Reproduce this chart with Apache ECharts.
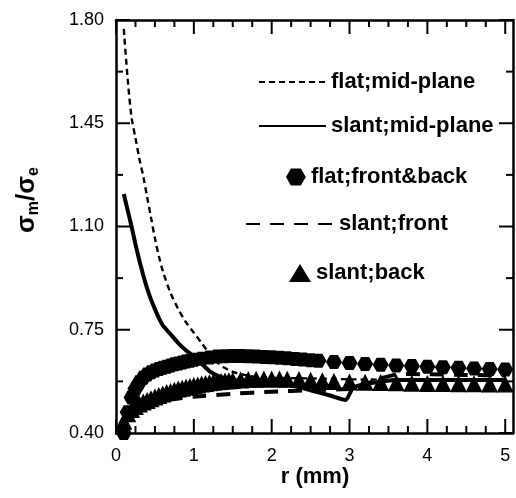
<!DOCTYPE html>
<html><head><meta charset="utf-8">
<script src="https://cdn.jsdelivr.net/npm/echarts@6/dist/echarts.min.js"></script>
<style>html,body{margin:0;padding:0;background:#fff}#c{width:516px;height:498px}</style>
</head><body><div id="c"></div>
<script>
// ---- axis ranges and tick values ----
const X_MIN = 0, X_MAX = 5.1, Y_MIN = 0.4, Y_MAX = 1.8;
const xMajorTicks = [0, 1, 2, 3, 4, 5];
const xMinorTicks = [0.25, 0.5, 0.75, 1.25, 1.5, 1.75, 2.25, 2.5, 2.75, 3.25, 3.5, 3.75, 4.25, 4.5, 4.75];
const yMajorTicks = [0.40, 0.75, 1.10, 1.45, 1.80];
const yMinorTicks = [0.575, 0.925, 1.275, 1.625];
const yMajorLabels = ['0.40', '0.75', '1.10', '1.45', '1.80'];

// ---- series names ----
const names = ['flat;mid-plane', 'slant;mid-plane', 'flat;front&back', 'slant;front', 'slant;back'];

// flat;mid-plane (dashed)
const rFlatMid = [0.1,0.15,0.2,0.25,0.3,0.35,0.4,0.45,0.5,0.55,0.6,0.7,0.8,0.9,1.0,1.1,1.2,1.3,1.4,1.5,1.6,1.7,1.8,2.0,2.5,3.0,4.0,5.0];
const vFlatMid = [1.77,1.60,1.47,1.40,1.33,1.27,1.20,1.13,1.06,1.00,0.95,0.875,0.82,0.775,0.74,0.705,0.67,0.64,0.62,0.607,0.60,0.594,0.59,0.587,0.585,0.582,0.58,0.58];

// slant;mid-plane (solid)
const rSlantMid = [0.1,0.15,0.2,0.25,0.3,0.35,0.4,0.45,0.5,0.55,0.6,0.65,0.7,0.8,0.9,1.0,1.1,1.2,1.3,1.4,1.5,1.75,2.0,2.2,2.5,2.75,2.95,3.05,3.3,3.6,4.0,4.5,5.0];
const vSlantMid = [1.21,1.155,1.10,1.04,0.985,0.935,0.89,0.852,0.82,0.79,0.765,0.75,0.735,0.705,0.68,0.66,0.635,0.61,0.595,0.585,0.58,0.578,0.575,0.565,0.545,0.527,0.512,0.555,0.57,0.58,0.58,0.58,0.58];

// flat;front&back (hexagons)
const rFlatFB = [0.1,0.15,0.2,0.25,0.3,0.35,0.4,0.45,0.5,0.55,0.6,0.65,0.7,0.75,0.8,0.85,0.9,0.95,1.0,1.1,1.2,1.3,1.4,1.5,1.6,1.7,1.8,1.9,2.0,2.1,2.2,2.3,2.4,2.5,2.6,2.8,3.0,3.2,3.4,3.6,3.8,4.0,4.2,4.4,4.6,4.8,5.0];
const vFlatFB = [0.40,0.47,0.52,0.55,0.572,0.587,0.598,0.606,0.612,0.617,0.621,0.625,0.629,0.633,0.636,0.639,0.642,0.645,0.648,0.652,0.656,0.659,0.66,0.661,0.661,0.66,0.659,0.658,0.657,0.655,0.653,0.651,0.649,0.647,0.645,0.641,0.637,0.634,0.631,0.629,0.627,0.625,0.623,0.621,0.619,0.617,0.615];

// slant;front (long dash)
const rSlantFront = [0.1,0.2,0.3,0.4,0.5,0.7,1.0,1.5,2.0,2.5,2.9,3.0,3.2,3.4,3.6,3.8,4.0,4.5,5.0];
const vSlantFront = [0.46,0.48,0.49,0.497,0.503,0.513,0.523,0.533,0.54,0.545,0.548,0.55,0.565,0.585,0.598,0.60,0.599,0.597,0.595];

// slant;back (triangles)
const rSlantBack = [0.1,0.15,0.2,0.25,0.3,0.35,0.4,0.45,0.5,0.55,0.6,0.65,0.7,0.75,0.8,0.85,0.9,0.95,1.0,1.05,1.1,1.15,1.2,1.25,1.3,1.35,1.4,1.45,1.5,1.6,1.7,1.8,1.9,2.0,2.1,2.2,2.35,2.5,2.65,2.8,3.0,3.2,3.4,3.6,3.8,4.0,4.2,4.4,4.6,4.8,5.0];
const vSlantBack = [0.44,0.465,0.48,0.49,0.498,0.505,0.51,0.516,0.522,0.527,0.532,0.537,0.541,0.545,0.549,0.552,0.555,0.558,0.561,0.563,0.566,0.568,0.57,0.572,0.574,0.575,0.576,0.577,0.578,0.58,0.581,0.582,0.583,0.583,0.583,0.582,0.581,0.579,0.577,0.575,0.573,0.572,0.571,0.57,0.569,0.568,0.568,0.567,0.567,0.566,0.566];

const pair = (r, v) => r.map((x, i) => [x, v[i]]);
const FONT = 'Liberation Sans, Arial, Helvetica, sans-serif';
const HEX = 'path://M0,43 L25,0 L75,0 L100,43 L75,86 L25,86 Z';
const AXLINE = {show: true, onZero: false, lineStyle: {color: '#000', width: 2.5}};

function xAx(pos, labels) {
  return {type: 'value', position: pos, min: X_MIN, max: X_MAX, interval: 1, axisLine: AXLINE,
    axisTick: {show: false}, minorTick: {show: false},
    axisLabel: labels ? {show: true, margin: 14, color: '#000', fontSize: 18, fontFamily: FONT,
      formatter: v => (Math.abs(v - Math.round(v)) < 1e-9 ? String(Math.round(v)) : '')} : {show: false},
    splitLine: {show: false}, minorSplitLine: {show: false}};
}
function yVal(pos) {
  return {type: 'value', position: pos, min: Y_MIN, max: Y_MAX, axisLine: AXLINE,
    axisTick: {show: false}, axisLabel: {show: false}, splitLine: {show: false}};
}
function yCat(pos, data) {
  return {type: 'category', position: pos, data: data, boundaryGap: false, axisLine: {show: false},
    axisTick: {show: false},
    axisLabel: {show: true, interval: 0, margin: 12, color: '#000', fontSize: 18, fontFamily: FONT},
    splitLine: {show: false}};
}
// tick marks drawn as thin rect symbols on the axis lines, pushed inward
function tickSeries(data, size, offset) {
  return {type: 'scatter', data: data, symbol: 'rect', symbolSize: size, symbolOffset: offset,
    itemStyle: {color: '#000', opacity: 1}, silent: true, clip: false, z: 3,
    emphasis: {disabled: true}, tooltip: {show: false}};
}
function leg(name, left, top, w, h, gap, hideSymbol) {
  const o = {data: [name], left: left, top: top, padding: 0, itemWidth: w, itemHeight: h,
    itemTextGap: gap, selectedMode: false,
    textStyle: {color: '#000', fontSize: 22, fontWeight: 'bold', fontFamily: FONT}};
  if (hideSymbol) o.itemStyle = {opacity: 0};
  return o;
}

const chart = echarts.init(document.getElementById('c'));
chart.setOption({
  animation: false,
  backgroundColor: '#fff',
  grid: {left: 116, top: 20, right: -6, bottom: 65},
  xAxis: [xAx('bottom', true), xAx('top', false)],
  yAxis: [yVal('left'), yCat('left', yMajorLabels), yVal('right')],
  legend: [
    leg(names[0], 258, 71, 67, 14, 10, true),
    leg(names[1], 258, 115, 67, 14, 7, true),
    leg(names[2], 286, 166, 20, 17, 9, false),
    leg(names[3], 245, 213, 88, 14, 12, true),
    leg(names[4], 289, 262, 22, 18, 11, false)
  ],
  series: [
    {name: names[2], type: 'scatter', data: pair(rFlatFB, vFlatFB), symbol: HEX, symbolSize: [16, 14],
      itemStyle: {color: '#000', opacity: 1}},
    {name: names[4], type: 'scatter', data: pair(rSlantBack, vSlantBack), symbol: 'triangle', symbolSize: 17,
      itemStyle: {color: '#000', opacity: 1}},
    {name: names[0], type: 'line', data: pair(rFlatMid, vFlatMid), symbol: 'none', smooth: 0.3,
      lineStyle: {color: '#000', width: 2.4, type: [6, 4]}, itemStyle: {color: '#000'}},
    {name: names[1], type: 'line', data: pair(rSlantMid, vSlantMid), symbol: 'none', smooth: 0.2,
      lineStyle: {color: '#000', width: 4, type: 'solid'}, itemStyle: {color: '#000'}},
    {name: names[3], type: 'line', data: pair(rSlantFront, vSlantFront), symbol: 'none', smooth: 0.2,
      lineStyle: {color: '#000', width: 4, type: [14, 10]}, itemStyle: {color: '#000'}},
    // axis ticks (bottom / top / left / right)
    tickSeries(xMajorTicks.map(v => [v, Y_MIN]), [2, 14], [0, -7]),
    tickSeries(xMinorTicks.map(v => [v, Y_MIN]), [2, 7], [0, -3.5]),
    tickSeries(xMajorTicks.map(v => [v, Y_MAX]), [2, 14], [0, 7]),
    tickSeries(xMinorTicks.map(v => [v, Y_MAX]), [2, 7], [0, 3.5]),
    tickSeries(yMajorTicks.map(v => [X_MIN, v]), [14, 2], [7, 0]),
    tickSeries(yMinorTicks.map(v => [X_MIN, v]), [7, 2], [3.5, 0]),
    tickSeries(yMajorTicks.map(v => [X_MAX, v]), [14, 2], [-7, 0]),
    tickSeries(yMinorTicks.map(v => [X_MAX, v]), [7, 2], [-3.5, 0])
  ],
  graphic: [
    {type: 'text', x: 315, y: 477,
      style: {text: 'r (mm)', fill: '#000', fontSize: 22, fontWeight: 'bold', fontFamily: FONT, align: 'center', verticalAlign: 'middle'}},
    {type: 'text', x: 27, y: 200, rotation: Math.PI / 2,
      style: {text: '{a|σ}{b|m}{a|/σ}{b|e}', align: 'center', verticalAlign: 'middle', fill: '#000',
        rich: {a: {fontSize: 26, fontWeight: 'bold', fontFamily: FONT, lineHeight: 30, fill: '#000'},
               b: {fontSize: 16, fontWeight: 'bold', fontFamily: FONT, lineHeight: 16, verticalAlign: 'bottom', fill: '#000'}}}}
  ]
});
</script></body></html>
